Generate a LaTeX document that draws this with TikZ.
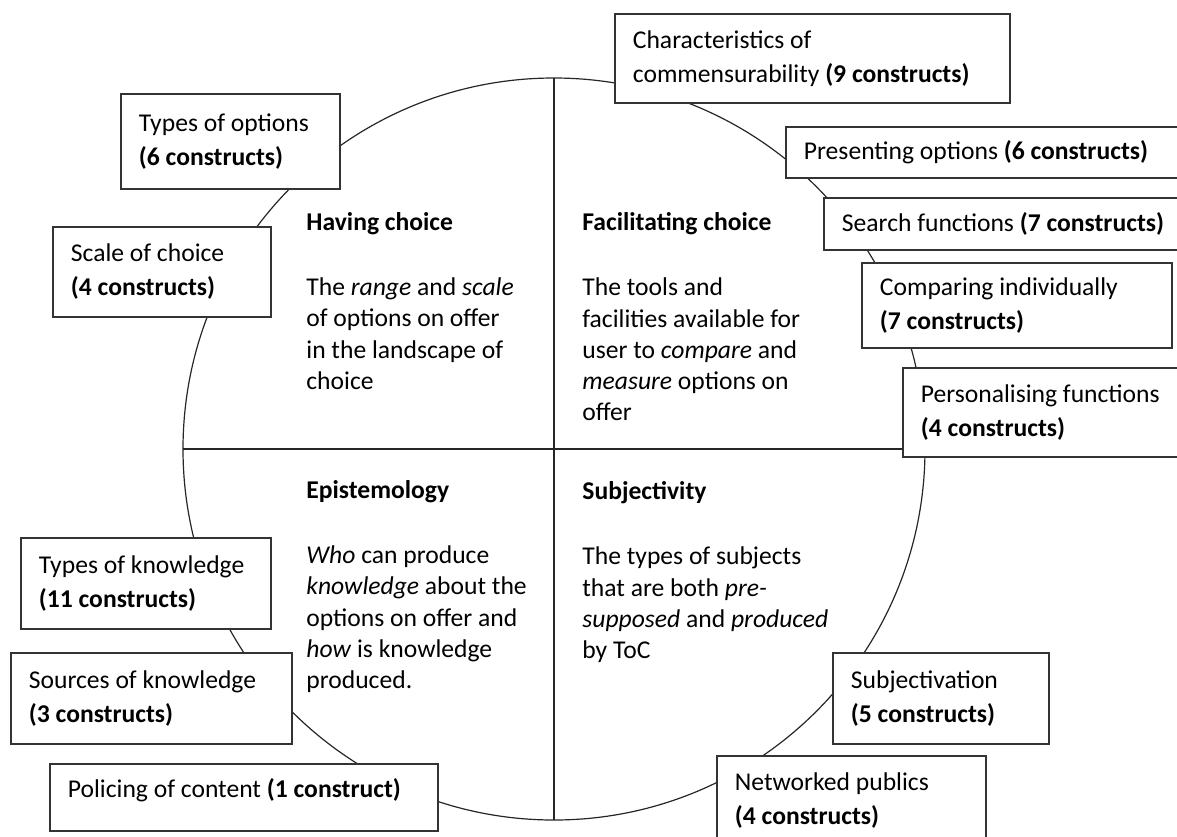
\documentclass[tikz,border=0pt]{standalone}
\usepackage{fontspec}
\setmainfont{Carlito}
\usepackage{tikz}

\begin{document}
\begin{tikzpicture}[
    x=0.5pt, y=-0.5pt,
    wheel/.style={
        circle,
        draw=black!85,
        line width=0.6pt,
        minimum size=371pt,
        inner sep=0pt,
        outer sep=0pt
    },
    divider/.style={
        draw=black!85,
        line width=0.6pt
    },
    quadrant/.style={
        anchor=north west,
        inner sep=0pt,
        align=flush left,
        font=\fontsize{12.8}{15.65}\selectfont
    },
    construct/.style={
        rectangle,
        draw=black!80,
        fill=white,
        line width=0.9pt,
        anchor=north west,
        inner xsep=9pt,
        inner ysep=0pt,
        align=flush left,
        font=\fontsize{12.8}{17}\selectfont
    }
]

\useasboundingbox (0,0) rectangle (1177,836);
\clip (0,0) rectangle (1177,836);

% Wheel and its two axes
\node[wheel] (wheel) at (554,449) {};
\draw[divider] (wheel.north) -- (wheel.south);
\draw[divider] (wheel.west) -- (wheel.east);

% Quadrants
\node[quadrant] (having) at (306,212) {
    \textbf{Having choice}\\[17pt]
    The \emph{range} and \emph{scale}\\
    of options on offer\\
    in the landscape of\\
    choice
};

\node[quadrant] (facilitating) at (582,212) {
    \textbf{Facilitating choice}\\[17pt]
    The tools and\\
    facilities available for\\
    user to \emph{compare} and\\
    \emph{measure} options on\\
    offer
};

\node[quadrant] (episteme) at (306,480) {
    \textbf{Epistemology}\\[17pt]
    \emph{Who} can produce\\
    \emph{knowledge} about the\\
    options on offer and\\
    \emph{how} is knowledge\\
    produced.
};

\node[quadrant] (subjectivity) at (582,481) {
    \textbf{Subjectivity}\\[17pt]
    The types of subjects\\
    that are both \emph{pre-}\\
    \emph{supposed} and \emph{produced}\\
    by ToC
};

% Constructs, upper left
\node[construct, text width=91.5pt, minimum height=47.5pt] (opttypes) at (120,93) {
    Types of options\\ \textbf{(6 constructs)}
};

\node[construct, text width=91pt, minimum height=45pt] (choicescale) at (52,226) {
    Scale of choice\\ \textbf{(4 constructs)}
};

% Constructs, upper right
\node[construct, text width=179.5pt, minimum height=44.5pt] (commens) at (614,13) {
    Characteristics of\\ commensurability \textbf{(9 constructs)}
};

\node[construct, text width=192pt, minimum height=25.5pt] (presenting) at (785,126) {
    Presenting options \textbf{(6 constructs)}
};

\node[construct, text width=172pt, minimum height=26pt] (search) at (823,197) {
    Search functions \textbf{(7 constructs)}
};

\node[construct, text width=137pt, minimum height=42.5pt] (comparing) at (861,262) {
    Comparing individually\\ \textbf{(7 constructs)}
};

\node[construct, text width=132pt, minimum height=44.5pt] (personal) at (902,367) {
    Personalising functions\\ \textbf{(4 constructs)}
};

% Constructs, lower left
\node[construct, text width=107pt, minimum height=45.5pt] (knowtypes) at (20,537) {
    Types of knowledge\\ \textbf{(11 constructs)}
};

\node[construct, text width=122.5pt, minimum height=45.5pt] (knowsources) at (10,652) {
    Sources of knowledge\\ \textbf{(3 constructs)}
};

\node[construct, text width=176pt, minimum height=33.5pt, text depth=9.5pt] (policing) at (49,763) {
    Policing of content \textbf{(1 construct)}
};

% Constructs, lower right
\node[construct, text width=90pt, minimum height=45.5pt] (subjectivation) at (832,652) {
    Subjectivation\\ \textbf{(5 constructs)}
};

\node[construct, text width=116.5pt, minimum height=44.5pt] (networked) at (716,755) {
    Networked publics\\ \textbf{(4 constructs)}
};

\end{tikzpicture}
\end{document}
